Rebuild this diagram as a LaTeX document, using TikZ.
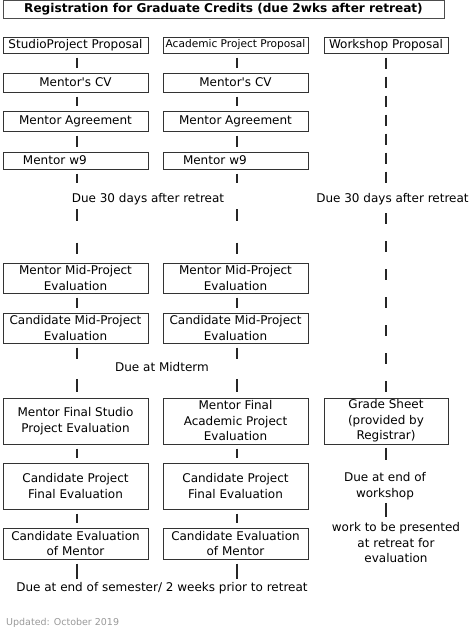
\documentclass[tikz,border=0pt]{standalone}
\usepackage{fontspec}
\setmainfont{DejaVu Sans}
\usepackage{xcolor}
\usetikzlibrary{positioning}
\tikzset{
  titlebox/.style={draw=black!70, line width=1pt, rectangle, inner sep=0pt, minimum width=441pt, minimum height=18pt, font=\bfseries\fontsize{12.1}{15}\selectfont},
  box/.style     ={draw=black!80, line width=1pt, rectangle, align=center, inner sep=0pt, minimum width=145pt, font=\fontsize{12}{15.5}\selectfont},
  w9box/.style   ={box, align=left, inner xsep=20pt, text width=105pt},
  h2line/.style  ={minimum height=30pt},
  h3line/.style  ={minimum height=46pt},
  note/.style    ={inner sep=0pt, align=center, font=\fontsize{12}{15.5}\selectfont},
  link/.style    ={line width=1.8pt, black!85, shorten <=4pt, shorten >=5pt},
  colink/.style  ={link, transform canvas={xshift=1.5pt}},
}

\begin{document}
\begin{tikzpicture}[x=1pt, y=-1pt]
  \useasboundingbox (0,0) rectangle (474,632);

  \node[titlebox] (title) at (223.5,9.2) {Registration for Graduate Credits (due 2wks after retreat)};

  % studio column
  \node[box, minimum height=16pt] (prop1) at (75.5,45) {StudioProject Proposal};
  \node[box, minimum height=19pt] (cv1)   at (75.5,82.5) {Mentor\textquotesingle s CV};
  \node[box, minimum height=20pt] (agr1)  at (75.5,121) {Mentor Agreement};
  \node[w9box, minimum height=17pt] (w9a) at (75.5,160.5) {Mentor w9};
  \node[box, h2line] (mid1)  at (75.5,278) {Mentor Mid-Project\\Evaluation};
  \node[box, h2line] (cmid1) at (75.5,328) {Candidate Mid-Project\\Evaluation};
  \node[box, h3line] (fin1)  at (75.5,421) {Mentor Final Studio\\Project Evaluation};
  \node[box, h3line] (cfin1) at (75.5,486) {Candidate Project\\Final Evaluation};
  \node[box, minimum height=31pt] (ceval1) at (75.5,543.5) {Candidate Evaluation\\of Mentor};

  % academic column
  \node[box, minimum height=16pt, right=14pt of prop1, font=\fontsize{10.6}{13}\selectfont] (prop2) {Academic Project Proposal};
  \node[box, minimum height=19pt, right=14pt of cv1]  (cv2)  {Mentor\textquotesingle s CV};
  \node[box, minimum height=20pt, right=14pt of agr1] (agr2) {Mentor Agreement};
  \node[w9box, minimum height=17pt, right=14pt of w9a] (w9b) {Mentor w9};
  \node[box, h2line, right=14pt of mid1]  (mid2)  {Mentor Mid-Project\\Evaluation};
  \node[box, h2line, right=14pt of cmid1] (cmid2) {Candidate Mid-Project\\Evaluation};
  \node[box, h3line, right=14pt of fin1]  (fin2)  {Mentor Final\\Academic Project\\Evaluation};
  \node[box, h3line, right=14pt of cfin1] (cfin2) {Candidate Project\\Final Evaluation};
  \node[box, minimum height=31pt, right=14pt of ceval1] (ceval2) {Candidate Evaluation\\of Mentor};

  % workshop column
  \node[box, minimum height=16pt, minimum width=124pt, right=15pt of prop2] (wsp) {Workshop Proposal};
  \node[box, h3line, minimum width=124pt, right=15pt of fin2] (grade) {Grade Sheet\\(provided by\\Registrar)};

  % deadlines
  \node[note] (due30)  at (148,199) {Due 30 days after retreat};
  \node[note] (due30w) at (392.5,199) {Due 30 days after retreat};
  \node[note] (duemid) at (162,367) {Due at Midterm};
  \node[note] (duews)  at (385,486) {Due at end of\\workshop};
  \node[note] (work)   at (396,543) {work to be presented\\at retreat for\\evaluation};
  \node[note] (dueend) at (162,588) {Due at end of semester/ 2 weeks prior to retreat};
  \node[note, anchor=west, text=black!40, font=\fontsize{9.5}{11}\selectfont] (upd) at (6,623) {Updated: October 2019};

  % links
  \foreach \a/\b in {prop1/cv1, cv1/agr1, agr1/w9a, mid1/cmid1, fin1/cfin1, cfin1/ceval1,
                     prop2/cv2, cv2/agr2, agr2/w9b, mid2/cmid2, fin2/cfin2, cfin2/ceval2}
    \draw[colink] (\a) -- (\b);
  \foreach \c in {1,2} {
    \draw[colink, shorten >=7pt, dash pattern=on 11.5pt off 22pt, shorten <=4pt] (mid\c |- due30.south) -- (mid\c);
    \draw[colink, shorten >=3pt] (cmid\c) -- (cmid\c |- duemid.north);
    \draw[colink, shorten <=7pt, shorten >=6pt] (fin\c |- duemid.south) -- (fin\c);
    \draw[colink, shorten >=3pt] (ceval\c) -- (ceval\c |- dueend.north);
  }
  \draw[colink, shorten >=10pt] (w9a) -- (w9a |- due30.north);
  \draw[colink, shorten >=10pt] (w9b) -- (w9b |- due30.north);
  \draw[link, shorten >=10pt, dash pattern=on 11pt off 8pt] (wsp) -- (wsp |- due30w.north);
  \draw[link, shorten <=8pt, shorten >=6pt, dash pattern=on 11pt off 17pt] (grade |- due30w.south) -- (grade);
  \draw[link, shorten <=3pt, shorten >=12pt] (grade) -- (grade |- duews.north);
  \draw[link, shorten <=3pt, shorten >=6pt] (grade |- duews.south) -- (grade |- work.north);
\end{tikzpicture}
\end{document}
